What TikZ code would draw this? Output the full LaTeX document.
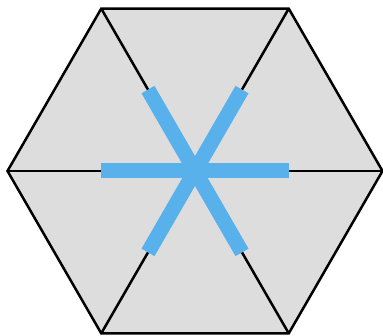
\documentclass[tikz,border=0pt]{standalone}
\usepackage{tikz}
\usetikzlibrary{calc}
\definecolor{hexfill}{HTML}{DDDDDD}
\definecolor{spoke}{HTML}{58B1EB}

\begin{document}
\begin{tikzpicture}[
    x=1pt, y=1pt,
    edge/.style={draw=black, line width=2.5pt, line join=miter},
    radial/.style={draw=black, line width=2.5pt},
    bar/.style={draw=spoke, line width=15pt, line cap=butt}
]
\useasboundingbox (0,0) rectangle (383,336);

\coordinate (c) at (195,165);
\foreach \i in {0,...,5}
    \coordinate (v\i) at ($(c)+(\i*60:187.5)$);
\foreach \i in {0,...,5}
    \coordinate (m\i) at ($(c)+(\i*60:94)$);

% hexagon
\fill[hexfill] (v0) -- (v1) -- (v2) -- (v3) -- (v4) -- (v5) -- cycle;
\foreach \i in {0,...,5}
    \draw[radial] (c) -- (v\i);
\draw[edge] (v0) -- (v1) -- (v2) -- (v3) -- (v4) -- (v5) -- cycle;

% spokes
\draw[bar] (m0) -- (m3);
\draw[bar] (m1) -- (m4);
\draw[bar] (m2) -- (m5);

\end{tikzpicture}
\end{document}
